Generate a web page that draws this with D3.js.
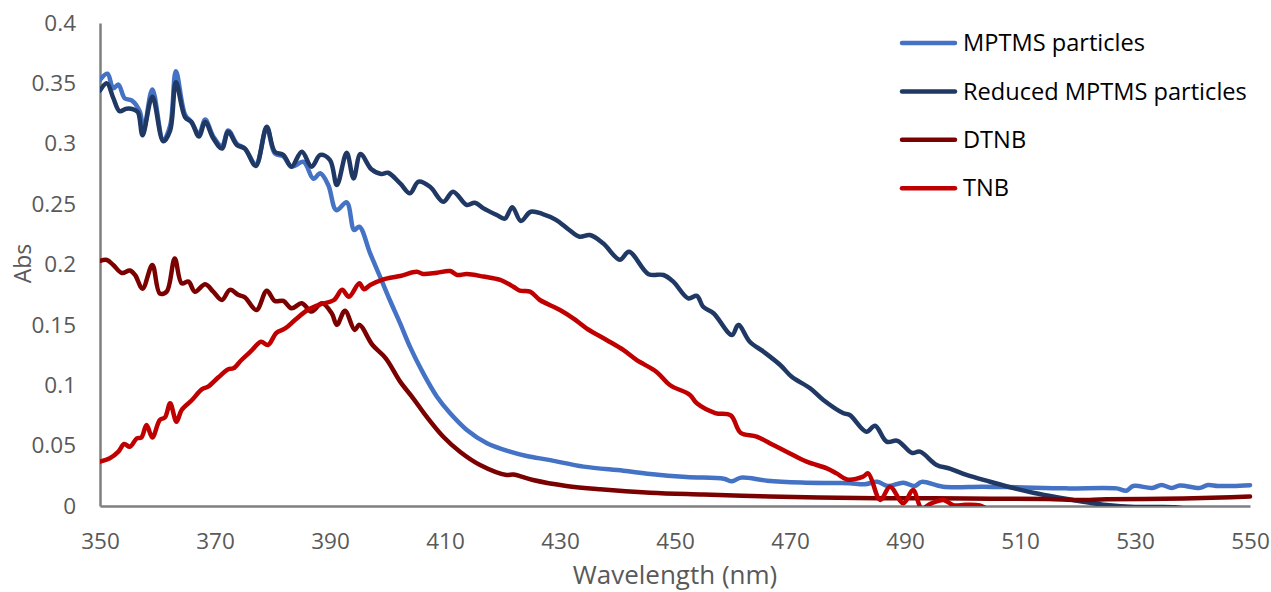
<!DOCTYPE html>
<html lang="en">
<head>
  <meta charset="UTF-8">
  <title>Abs spectra</title>
  <script src="https://cdn.jsdelivr.net/npm/d3@7"></script>
<style>
  body { margin: 0; background: #fff; }
  text { font-family: "Open Sans", sans-serif; }
</style>
</head>

<body>
  <script>
    // wavelength (nm) / absorbance pairs
    var mptmsNm = [350, 351.3, 352.3, 353.2, 354.3, 355.5, 356.9, 357.6, 359.1, 361, 362.2, 363.2, 364.8, 365.9,
      367.2, 368.3, 369.7, 371.2, 372.3, 373.8, 375.2, 377.1, 379, 380.4, 381.9, 383.3, 385.4, 387.1, 388.3,
      389.7, 391.1, 392.9, 394.2, 395.1, 397, 398.7, 400.4, 402.2, 403.9, 406.2, 408.6, 410.9, 413.8, 417.3,
      421.3, 424.2, 428.3, 434.1, 441, 445.7, 452, 458.5, 459.9, 461.5, 466, 472, 478, 480.4, 483, 485.2, 487,
      489.7, 491.7, 492.9, 496.6, 503.6, 509.4, 518, 526.8, 528.5, 529.7, 533, 534.6, 536.4, 537.8, 541.3,
      542.7, 544.4, 547, 550];
    var mptmsAbs = [0.353, 0.358, 0.346, 0.349, 0.3376, 0.336, 0.327, 0.312, 0.345, 0.303, 0.315, 0.36, 0.324, 0.318,
      0.308, 0.32, 0.306, 0.298, 0.311, 0.3, 0.296, 0.283, 0.313, 0.292, 0.2895, 0.281, 0.285, 0.271, 0.2755,
      0.2658, 0.245, 0.2515, 0.2286, 0.2313, 0.209, 0.19, 0.1706, 0.1513, 0.132, 0.11, 0.0905, 0.0768, 0.063, 0.052,
      0.045, 0.0414, 0.038, 0.0326, 0.0292, 0.0265, 0.024, 0.0225, 0.0205, 0.0235, 0.021, 0.0195, 0.019, 0.0188, 0.018, 0.02, 0.0166,
      0.0193, 0.0166, 0.02, 0.016, 0.016, 0.0155, 0.0146, 0.0146, 0.0127, 0.0166, 0.015, 0.0174, 0.015, 0.017, 0.015,
      0.0174, 0.0166, 0.0166, 0.0172];

    var reducedNm = [350, 351.2, 352.3, 353.4, 354.6, 355.8, 356.6, 357.4, 359.1, 361, 362.2, 363.2, 364.8, 365.9,
      367.2, 368.3, 369.7, 371.2, 372.3, 373.8, 375.2, 377.1, 379, 380.4, 381.9, 383.3, 385.1, 386.8, 388.3,
      390, 391.2, 392.9, 394.1, 395.3, 397.2, 398.9, 400.1, 402.2, 403.9, 405.4, 407.4, 409.7, 411.4, 413.8,
      415.2, 416.7, 419, 420.4, 421.7, 423.2, 424.9, 427, 429.3, 431.5, 433.4, 435.2, 437.5, 440.4, 442,
      445.4, 448, 449.7, 452.3, 453.8, 454.9, 456.7, 459.9, 461, 463, 465.4, 468.3, 470.3, 473.5, 475.8, 479.3,
      480.4, 483.3, 484.8, 486.8, 488.7, 491.2, 492.6, 495.5, 497.8, 500.7, 504.8, 508.3, 512.3, 516.4, 521,
      525.1, 530, 537, 540, 550];
    var reducedAbs = [0.344, 0.35, 0.338, 0.327, 0.329, 0.3285, 0.326, 0.307, 0.339, 0.302, 0.311, 0.351, 0.322, 0.318,
      0.306, 0.318, 0.3045, 0.296, 0.31, 0.299, 0.296, 0.2816, 0.314, 0.2934, 0.2907, 0.281, 0.2934, 0.281, 0.2907,
      0.2865, 0.2658, 0.2926, 0.2713, 0.2915, 0.2788, 0.275, 0.276, 0.2672, 0.259, 0.2686, 0.2644, 0.252, 0.2603, 0.2493,
      0.2512, 0.2465, 0.241, 0.238, 0.2474, 0.236, 0.2437, 0.2418, 0.237, 0.229, 0.223, 0.2244, 0.2176, 0.204, 0.2106,
      0.192, 0.1913, 0.1858, 0.172, 0.174, 0.165, 0.1596, 0.1416, 0.15, 0.136, 0.1278, 0.1168, 0.107, 0.0975, 0.0878, 0.0768,
      0.0754, 0.0615, 0.0665, 0.0533, 0.054, 0.044, 0.045, 0.034, 0.031, 0.0257, 0.0201, 0.0155, 0.011, 0.0072, 0.0036,
      0.0008, -0.0008, -0.001, -0.003, -0.006];

    var dtnbNm = [350, 351.2, 352.3, 353.8, 355.2, 356.1, 357.4, 359.1, 360.4, 361.6, 363, 364.2, 365.4, 366.5,
      368.3, 369.7, 371.2, 372.6, 374.1, 375.2, 377.2, 379, 380.4, 381.9, 383.3, 385.1, 386.8, 388.6, 390.3,
      391.2, 392.6, 394.3, 395.1, 397.4, 399.7, 402.2, 404.5, 406.8, 409.7, 412.6, 416.1, 420.7, 421.9, 425.3,
      431.1, 437, 445.7, 455, 465, 475, 485, 495, 505, 515, 520, 525, 535, 545, 550];
    var dtnbAbs = [0.203, 0.2037, 0.1996, 0.193, 0.195, 0.1913, 0.18, 0.1996, 0.176, 0.1775, 0.205, 0.1844, 0.1858, 0.1775,
      0.1836, 0.1775, 0.1706, 0.179, 0.1747, 0.1728, 0.1623, 0.1783, 0.1698, 0.1698, 0.1637, 0.1679, 0.161, 0.1679, 0.1596,
      0.15, 0.1617, 0.1458, 0.15, 0.1333, 0.1223, 0.103, 0.089, 0.074, 0.0574, 0.045, 0.034, 0.0257, 0.026, 0.0215,
      0.0166, 0.0138, 0.011, 0.0095, 0.008, 0.007, 0.0065, 0.0065, 0.006, 0.0058, 0.005, 0.0055, 0.006, 0.007, 0.0078];

    var tnbNm = [350, 351.7, 353.2, 354.2, 355.2, 356.4, 357.2, 358.1, 359.1, 360.4, 361.3, 362.2, 363.3, 364.2,
      366, 367.7, 368.8, 370.6, 372.3, 373.2, 374.6, 376.3, 378, 379.2, 380.7, 382.2, 383.9, 386.1, 388.3,
      390.7, 392.1, 393.3, 395.1, 395.9, 397, 399.3, 402.2, 405.1, 406.2, 408.6, 410.9, 412.1, 413.8, 416.7,
      419.6, 421.9, 423, 424.8, 426.5, 430, 432.3, 434.6, 438.1, 441, 443.3, 446.8, 449.1, 452.6, 453.8, 457,
      459.7, 461.4, 464.2, 467.1, 469.4, 472.9, 476.4, 478.1, 479.9, 482.7, 483.6, 485.7, 487.4, 489.7, 491.4,
      492.9, 494.5, 496.7, 498.5, 500.5, 503, 505, 510, 520, 528.5, 532, 550];
    var tnbAbs = [0.0367, 0.0395, 0.045, 0.0513, 0.0491, 0.056, 0.0568, 0.067, 0.0568, 0.0712, 0.0734, 0.085, 0.0698, 0.0795,
      0.0878, 0.0966, 0.0988, 0.1066, 0.1132, 0.114, 0.1209, 0.1284, 0.136, 0.1333, 0.1435, 0.147, 0.154, 0.1623, 0.167,
      0.1706, 0.179, 0.1733, 0.1844, 0.1795, 0.183, 0.1877, 0.1905, 0.194, 0.1921, 0.1932, 0.1946, 0.1913, 0.1921, 0.19,
      0.1872, 0.1816, 0.1783, 0.1775, 0.1706, 0.1623, 0.1554, 0.1472, 0.1375, 0.1292, 0.121, 0.111, 0.1002, 0.092, 0.085, 0.077,
      0.075, 0.0607, 0.0574, 0.0505, 0.045, 0.0367, 0.0312, 0.027, 0.022, 0.0243, 0.027, 0.005, 0.016, 0.0022, 0.0132,
      -0.002, 0.002, 0.005, 0.0005, 0.001, 0.0005, -0.004, -0.008, -0.01, -0.001, -0.012, -0.012];

    var seriesNames = ['MPTMS particles', 'Reduced MPTMS particles', 'DTNB', 'TNB'];
    var seriesColors = ['#4472c4', '#203864', '#7b0000', '#c00000'];
    var xTicks = [350, 370, 390, 410, 430, 450, 470, 490, 510, 530, 550];
    var yTicks = [0, 0.05, 0.1, 0.15, 0.2, 0.25, 0.3, 0.35, 0.4];

    var w = 1271;
    var h = 592;

    var series = [
      d3.zip(mptmsNm, mptmsAbs),
      d3.zip(reducedNm, reducedAbs),
      d3.zip(dtnbNm, dtnbAbs),
      d3.zip(tnbNm, tnbAbs)
    ];

    var x = d3.scaleLinear().domain([350, 550]).range([100, 1250]);
    var y = d3.scaleLinear().domain([0, 0.4]).range([506, 23]);

    var svg = d3.select('body')
                .append('svg')
                .attr('width', w)
                .attr('height', h);

    svg.append('clipPath').attr('id', 'plot')
      .append('rect')
      .attr('x', x(350))
      .attr('y', 0)
      .attr('width', x(550) - x(350) + 4)
      .attr('height', y(0));

    // axes
    var xAxis = svg.append('g')
      .attr('transform', `translate(0,${y(0)})`)
      .call(d3.axisBottom(x).tickValues(xTicks).tickSize(0).tickPadding(27).tickFormat(d3.format('d')));
    var yAxis = svg.append('g')
      .attr('transform', `translate(${x(350)},0)`)
      .call(d3.axisLeft(y).tickValues(yTicks).tickSize(0).tickPadding(24).tickFormat(d => String(d)));

    [xAxis, yAxis].forEach(function(g) {
      g.select('.domain').attr('stroke', '#7f7f7f').attr('stroke-width', 2.5);
      g.selectAll('text')
        .attr('font-family', '"Open Sans", sans-serif')
        .attr('font-size', '22.5px')
        .attr('fill', '#595959');
    });

    svg.selectAll('path.series')
      .data(series)
      .enter()
      .append('path')
      .attr('class', 'series')
      .attr('clip-path', 'url(#plot)')
      .attr('fill', 'none')
      .attr('stroke', (d, i) => seriesColors[i])
      .attr('stroke-width', 4.5)
      .attr('stroke-linejoin', 'round')
      .attr('stroke-linecap', 'round')
      .attr('d', d3.line().x(d => x(d[0])).y(d => y(d[1])).curve(d3.curveCatmullRom.alpha(0.5)));

    // axis titles
    svg.append('text')
      .attr('x', (x(350) + x(550)) / 2)
      .attr('y', 584)
      .attr('text-anchor', 'middle')
      .attr('font-size', '26px')
      .attr('fill', '#595959')
      .text('Wavelength (nm)');

    svg.append('text')
      .attr('transform', `translate(31,${y(0.2) - 1}) rotate(-90)`)
      .attr('text-anchor', 'middle')
      .attr('font-size', '23px')
      .attr('fill', '#595959')
      .text('Abs');

    // legend
    var legend = svg.selectAll('g.legend')
      .data(seriesNames)
      .enter()
      .append('g')
      .attr('class', 'legend')
      .attr('transform', (d, i) => `translate(902,${43 + i * 48.4})`);

    legend.append('line')
      .attr('x1', 0).attr('x2', 53)
      .attr('stroke', (d, i) => seriesColors[i])
      .attr('stroke-width', 4.5)
      .attr('stroke-linecap', 'round');

    legend.append('text')
      .attr('x', 61)
      .attr('dy', '0.35em')
      .attr('font-size', '23.6px')
      .attr('fill', '#000')
      .text(d => d);
  </script>
</body>
</html>
